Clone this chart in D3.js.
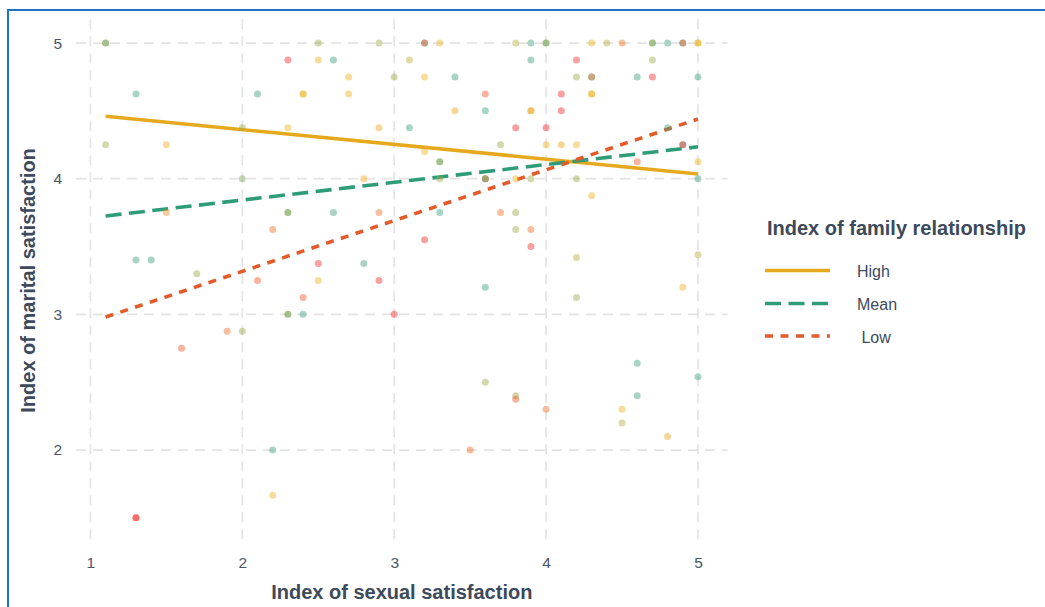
<!DOCTYPE html>
<html>
<head>
<meta charset="utf-8">
<script src="https://cdn.jsdelivr.net/npm/d3@7"></script>
<style>
  html, body { margin: 0; padding: 0; background: #ffffff; }
  svg { display: block; font-family: "Liberation Sans", Arial, sans-serif; }
</style>
</head>
<body>
<svg id="chart" width="1045" height="607"></svg>
<script>
// Observations: sexual satisfaction (x), marital satisfaction (y), family relationship index (colour)
const sexualSat = [
  1.1, 1.1, 1.1, 1.3, 1.3, 1.3, 1.3, 1.4, 1.5, 1.5, 1.6, 1.7, 1.9,
  2.0, 2.0, 2.0, 2.1, 2.1, 2.2, 2.2, 2.2, 2.3, 2.3, 2.3, 2.3, 2.3, 2.3,
  2.4, 2.4, 2.4, 2.4, 2.5, 2.5, 2.5, 2.5, 2.6, 2.6, 2.7, 2.7, 2.8, 2.8,
  2.9, 2.9, 2.9, 2.9, 3.0, 3.0, 3.1, 3.1, 3.2, 3.2, 3.2, 3.2, 3.2,
  3.3, 3.3, 3.3, 3.3, 3.3, 3.4, 3.4, 3.5, 3.6, 3.6, 3.6, 3.6, 3.6, 3.6, 3.6,
  3.7, 3.7, 3.8, 3.8, 3.8, 3.8, 3.8, 3.8, 3.8, 3.9, 3.9, 3.9, 3.9, 3.9, 3.9, 3.9,
  4.0, 4.0, 4.0, 4.0, 4.0, 4.1, 4.1, 4.1, 4.2, 4.2, 4.2, 4.2, 4.2, 4.2,
  4.3, 4.3, 4.3, 4.3, 4.3, 4.3, 4.4, 4.5, 4.5, 4.5, 4.6, 4.6, 4.6, 4.6,
  4.7, 4.7, 4.7, 4.7, 4.8, 4.8, 4.8, 4.9, 4.9, 4.9, 4.9, 4.9,
  5.0, 5.0, 5.0, 5.0, 5.0, 5.0, 5.0
];
const maritalSat = [
  5, 5, 4.25, 4.625, 3.4, 1.5, 1.5, 3.4, 4.25, 3.75, 2.75, 3.3, 2.875,
  4.375, 4.0, 2.875, 4.625, 3.25, 3.625, 2.0, 1.667, 4.875, 4.375, 3.75, 3.75, 3.0, 3.0,
  4.625, 4.625, 3.125, 3.0, 5, 4.875, 3.375, 3.25, 4.875, 3.75, 4.75, 4.625, 4.0, 3.375,
  5, 4.375, 3.75, 3.25, 4.75, 3.0, 4.875, 4.375, 5, 5, 4.75, 4.2, 3.55,
  5, 4.125, 4.125, 4.0, 3.75, 4.75, 4.5, 2.0, 4.625, 4.5, 4.0, 4.0, 4.0, 3.2, 2.5,
  4.25, 3.75, 5, 4.375, 4.0, 3.75, 3.625, 2.4, 2.375, 5, 4.875, 4.5, 4.5, 4.0, 3.625, 3.5,
  5, 5, 4.375, 4.25, 2.3, 4.625, 4.5, 4.25, 4.875, 4.75, 4.25, 4.0, 3.42, 3.125,
  5, 4.75, 4.75, 4.625, 4.625, 3.875, 5, 5, 2.3, 2.2, 4.75, 4.125, 2.64, 2.4,
  5, 5, 4.875, 4.75, 5, 4.375, 2.1, 5, 5, 4.25, 4.25, 3.2,
  5, 5, 4.75, 4.125, 4.0, 3.44, 2.54
];
const familyIdx = [
  3, 5, 3.9, 5, 5, 1, 1, 5, 3, 2.5, 1.6, 3.9, 2.0,
  3.9, 4.3, 3.9, 5, 1.6, 2.0, 5, 3, 1, 3, 3, 5, 3, 5,
  3, 3, 1.6, 5, 3.9, 3, 1, 3, 5, 5, 3, 3, 2.8, 5,
  3.9, 2.8, 2.0, 1, 3.9, 1, 3.6, 5, 5, 1.6, 3, 3, 1,
  3, 3, 5, 3.9, 5, 5, 2.8, 2.0, 1.6, 5, 1, 3, 5, 5, 3.9,
  3.9, 2.0, 3.6, 1, 3, 3.9, 3.9, 3.9, 1.6, 5, 5, 2.5, 3, 3.9, 2.0, 1,
  3, 5, 1, 3, 2.0, 1, 1, 2.8, 1, 3.9, 3, 3.9, 3.6, 3.9,
  3, 5, 2.0, 3, 3, 3, 3.6, 2.0, 3, 3.6, 5, 1.6, 5, 5,
  3, 5, 3.9, 1, 5, 5, 2.8, 5, 1.6, 5, 1, 3,
  3, 3, 5, 3, 5, 3.6, 5
];

// Simple-slope fits at three levels of the moderator
const fitX = [1.1, 5.0];
const fitHigh = [4.46, 4.035];
const fitMean = [3.725, 4.235];
const fitLow = [2.98, 4.44];

const levelLabels = ["High", "Mean", " Low"];
const xTicks = [1, 2, 3, 4, 5];
const yTicks = [2, 3, 4, 5];

const svg = d3.select("#chart");

// Frame accent on the top and left edges
svg.append("line").attr("x1", 8).attr("x2", 1045).attr("y1", 10).attr("y2", 10)
  .attr("stroke", "#1c74c6").attr("stroke-width", 2);
svg.append("line").attr("x1", 8).attr("x2", 8).attr("y1", 9).attr("y2", 607)
  .attr("stroke", "#1c74c6").attr("stroke-width", 2);

const x = d3.scaleLinear().domain([0.905, 5.195]).range([76, 727.6]);
const y = d3.scaleLinear().domain([1.325, 5.175]).range([541.6, 19.3]);

const color = d3.scaleLinear().domain([1, 3, 5])
  .range(["#f22f2f", "#eeb21e", "#3e9f7f"]);

// Grid
const grid = svg.append("g");
grid.selectAll("line.v").data(xTicks).join("line").attr("class", "v")
  .attr("x1", d => x(d)).attr("x2", d => x(d))
  .attr("y1", y.range()[1]).attr("y2", y.range()[0])
  .attr("stroke", "#e4e4e4").attr("stroke-width", 1.7).attr("stroke-dasharray", "10,7");
grid.selectAll("line.h").data(yTicks).join("line").attr("class", "h")
  .attr("y1", d => y(d)).attr("y2", d => y(d))
  .attr("x1", x.range()[0]).attr("x2", x.range()[1])
  .attr("stroke", "#e4e4e4").attr("stroke-width", 1.7).attr("stroke-dasharray", "10,7");

// Axes (labels only)
const xAxis = svg.append("g").attr("transform", `translate(0, 557)`)
  .call(d3.axisBottom(x).tickValues(xTicks).tickSize(0).tickPadding(0).tickFormat(d3.format("d")));
const yAxis = svg.append("g").attr("transform", `translate(66, 0)`)
  .call(d3.axisLeft(y).tickValues(yTicks).tickSize(0).tickPadding(4).tickFormat(d3.format("d")));
[xAxis, yAxis].forEach(a => {
  a.select(".domain").remove();
  a.selectAll("text").attr("fill", "#4a5567").attr("font-size", 15.5)
    .attr("font-family", "'Liberation Sans', Arial, sans-serif");
});
xAxis.selectAll("text").attr("dy", "0.71em");

// Fitted lines
const styles = [
  { vals: fitHigh, stroke: "#e6a91e", dash: null },
  { vals: fitMean, stroke: "#2e9c78", dash: "16,7.5" },
  { vals: fitLow, stroke: "#e35b2b", dash: "8,7.5" }
];
const line = d3.line().x(d => x(d[0])).y(d => y(d[1]));
styles.forEach(s => {
  svg.append("path")
    .datum(fitX.map((v, i) => [v, s.vals[i]]))
    .attr("d", line)
    .attr("fill", "none")
    .attr("stroke", s.stroke)
    .attr("stroke-width", 3.6)
    .attr("stroke-dasharray", s.dash);
});

// Points
const pts = sexualSat.map((v, i) => ({ sx: v, ms: maritalSat[i], fam: familyIdx[i] }));
svg.append("g").selectAll("circle").data(pts).join("circle")
  .attr("cx", d => x(d.sx))
  .attr("cy", d => y(d.ms))
  .attr("r", 3.5)
  .attr("fill", d => color(d.fam))
  .attr("fill-opacity", 0.45);

// Axis titles
svg.append("text")
  .attr("x", (x.range()[0] + x.range()[1]) / 2).attr("y", 599)
  .attr("text-anchor", "middle").attr("font-weight", "bold").attr("font-size", 20)
  .attr("fill", "#3c4a5b").text("Index of sexual satisfaction");
svg.append("text")
  .attr("transform", `translate(35, ${(y.range()[0] + y.range()[1]) / 2}) rotate(-90)`)
  .attr("text-anchor", "middle").attr("font-weight", "bold").attr("font-size", 20)
  .attr("fill", "#3c4a5b").text("Index of marital satisfaction");

// Legend
const legend = svg.append("g");
legend.append("text").attr("x", 767).attr("y", 235)
  .attr("font-weight", "bold").attr("font-size", 20).attr("fill", "#3c4a5b")
  .text("Index of family relationship");
const keyY = [270.5, 303.5, 336];
styles.forEach((s, i) => {
  legend.append("line")
    .attr("x1", 765).attr("x2", 830).attr("y1", keyY[i]).attr("y2", keyY[i])
    .attr("stroke", s.stroke).attr("stroke-width", 3.6)
    .attr("stroke-dasharray", s.dash);
  legend.append("text")
    .attr("x", 857).attr("y", keyY[i] + 6.5)
    .attr("font-size", 16).attr("fill", "#3c4a5b")
    .attr("xml:space", "preserve").style("white-space", "pre")
    .text(levelLabels[i]);
});
</script>
</body>
</html>
